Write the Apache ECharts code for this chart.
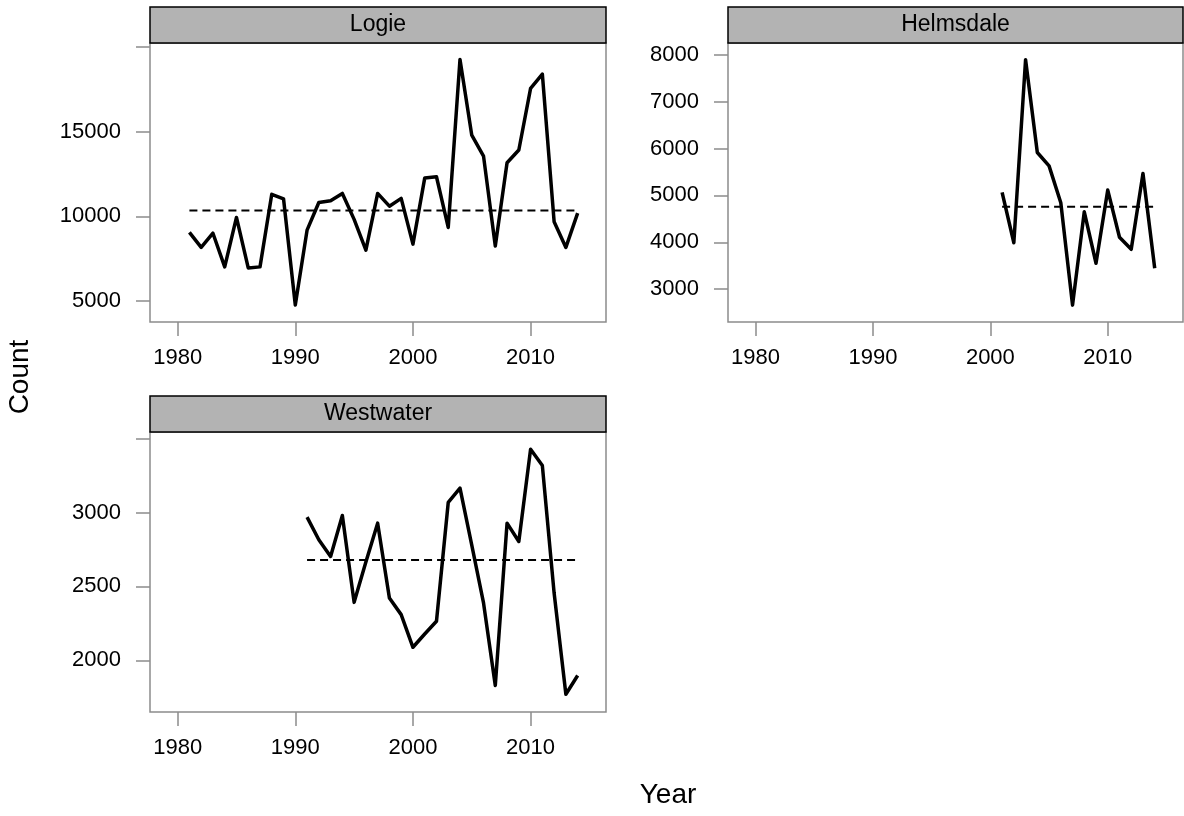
<!DOCTYPE html>
<html>
<head>
<meta charset="utf-8">
<title>Count by Year</title>
<script src="https://cdn.jsdelivr.net/npm/echarts@6/dist/echarts.min.js"></script>
<style>
    html, body { margin: 0; padding: 0; background: #fff; }
    #myChart { width: 1184px; height: 816px; }
</style>
</head>
<body>
<div id="myChart"></div>
<script>
/* data */
var xTicks = [1980, 1990, 2000, 2010];

var logieYears = [1981, 1982, 1983, 1984, 1985, 1986, 1987, 1988, 1989, 1990, 1991, 1992, 1993, 1994, 1995, 1996, 1997,
    1998, 1999, 2000, 2001, 2002, 2003, 2004, 2005, 2006, 2007, 2008, 2009, 2010, 2011, 2012, 2013, 2014];
var logieCounts = [9050, 8160, 9000, 7010, 9935, 6950, 7010, 11300, 11035, 4750, 9180, 10820, 10920, 11355, 9820, 8000, 11355,
    10600, 11060, 8355, 12260, 12340, 9340, 19280, 14800, 13560, 8240, 13165, 13920, 17570, 18410, 9680, 8160, 10190];
var logieRef = 10350;
var logieTicks = [5000, 10000, 15000, 20000];
var logieLabels = [5000, 10000, 15000];

var helmsdaleYears = [2001, 2002, 2003, 2004, 2005, 2006, 2007, 2008, 2009, 2010, 2011, 2012, 2013, 2014];
var helmsdaleCounts = [5064, 3990, 7894, 5915, 5630, 4843, 2660, 4650, 3553, 5113, 4107, 3851, 5468, 3447];
var helmsdaleRef = 4758;
var helmsdaleTicks = [3000, 4000, 5000, 6000, 7000, 8000];
var helmsdaleLabels = [3000, 4000, 5000, 6000, 7000, 8000];

var westwaterYears = [1991, 1992, 1993, 1994, 1995, 1996, 1997, 1998, 1999, 2000, 2001, 2002, 2003, 2004, 2005, 2006,
    2007, 2008, 2009, 2010, 2011, 2012, 2013, 2014];
var westwaterCounts = [2969, 2816, 2703, 2980, 2392, 2665, 2928, 2422, 2309, 2088, 2178, 2264, 3068, 3165, 2780, 2388,
    1830, 2928, 2804, 3428, 3318, 2455, 1770, 1897];
var westwaterRef = 2678;
var westwaterTicks = [2000, 2500, 3000, 3500];
var westwaterLabels = [2000, 2500, 3000];

var FONT = "'Liberation Sans', Arial, sans-serif";
var AXIS_GREY = '#8c8c8c';

function pairs(xs, ys) {
    return xs.map(function (x, i) { return [x, ys[i]]; });
}
function plain(v) {
    return String(v);
}

// layout of the three panels (lattice style, 2x2 with last cell empty)
var panels = [
    { name: 'Logie', years: logieYears, counts: logieCounts, ref: logieRef, yMin: 3750, yMax: 20250,
        yTicks: logieTicks, yLabels: logieLabels, left: 150, top: 43, width: 456, height: 279 },
    { name: 'Helmsdale', years: helmsdaleYears, counts: helmsdaleCounts, ref: helmsdaleRef, yMin: 2300, yMax: 8250,
        yTicks: helmsdaleTicks, yLabels: helmsdaleLabels, left: 728, top: 43, width: 455, height: 279 },
    { name: 'Westwater', years: westwaterYears, counts: westwaterCounts, ref: westwaterRef, yMin: 1650, yMax: 3545,
        yTicks: westwaterTicks, yLabels: westwaterLabels, left: 150, top: 432, width: 456, height: 280 }
];

var grids = [], xAxes = [], yAxes = [], series = [], graphics = [];

panels.forEach(function (p, i) {
    grids.push({
        left: p.left, top: p.top, width: p.width, height: p.height,
        show: true, borderColor: AXIS_GREY, borderWidth: 1.5, backgroundColor: 'transparent',
        outerBoundsMode: 'none', containLabel: false
    });
    xAxes.push({
        type: 'value', gridIndex: i, min: 1977.65, max: 2016.41,
        axisLine: { show: false },
        splitLine: { show: false },
        axisTick: { show: true, length: 14, customValues: xTicks, lineStyle: { color: AXIS_GREY, width: 1.5 } },
        axisLabel: { customValues: xTicks, formatter: plain, margin: 25, fontSize: 22, color: '#000', fontFamily: FONT }
    });
    yAxes.push({
        type: 'value', gridIndex: i, min: p.yMin, max: p.yMax,
        axisLine: { show: false },
        splitLine: { show: false },
        axisTick: { show: true, length: 14, customValues: p.yTicks, lineStyle: { color: AXIS_GREY, width: 1.5 } },
        axisLabel: { customValues: p.yLabels, formatter: plain, margin: 29, fontSize: 22, color: '#000', fontFamily: FONT }
    });
    series.push({
        name: p.name, type: 'line', xAxisIndex: i, yAxisIndex: i,
        data: pairs(p.years, p.counts),
        symbol: 'none', silent: true,
        lineStyle: { color: '#000', width: 3.5, join: 'round' }
    });
    series.push({
        name: p.name + ' ref', type: 'line', xAxisIndex: i, yAxisIndex: i,
        data: [[p.years[0], p.ref], [p.years[p.years.length - 1], p.ref]],
        symbol: 'none', silent: true,
        lineStyle: { color: '#000', width: 2, type: [8, 5] }
    });
    /* strip above panel */
    graphics.push({
        type: 'rect', z: 10,
        shape: { x: p.left, y: p.top - 36, width: p.width, height: 36 },
        style: { fill: '#b3b3b3', stroke: '#000', lineWidth: 1.5 }
    });
    graphics.push({
        type: 'text', z: 11,
        x: p.left + p.width / 2, y: p.top - 18,
        style: { text: p.name, font: '23px ' + FONT, fill: '#000',
            textAlign: 'center', textVerticalAlign: 'middle', align: 'center', verticalAlign: 'middle' }
    });
});

graphics.push({
    type: 'text', x: 20, y: 377, rotation: Math.PI / 2,
    style: { text: 'Count', font: '28px ' + FONT, fill: '#000',
        textAlign: 'center', textVerticalAlign: 'middle', align: 'center', verticalAlign: 'middle' }
});
graphics.push({
    type: 'text', x: 668, y: 795,
    style: { text: 'Year', font: '28px ' + FONT, fill: '#000',
        textAlign: 'center', textVerticalAlign: 'middle', align: 'center', verticalAlign: 'middle' }
});

var myChart = echarts.init(document.getElementById('myChart'), null, { renderer: 'canvas' });
myChart.setOption({
    animation: false,
    backgroundColor: '#fff',
    grid: grids,
    xAxis: xAxes,
    yAxis: yAxes,
    series: series,
    graphic: graphics
});
</script>
</body>
</html>
